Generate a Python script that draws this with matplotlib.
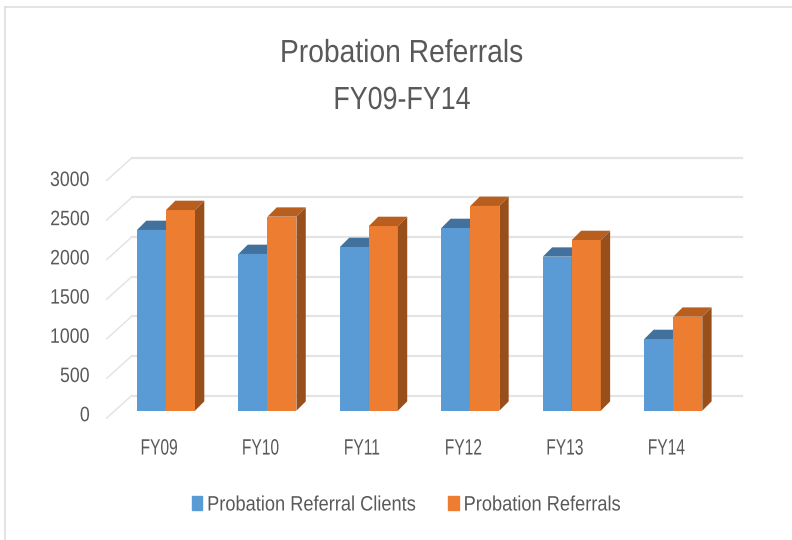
import matplotlib
matplotlib.use('Agg')
import matplotlib.pyplot as plt
from matplotlib.lines import Line2D
from matplotlib.patches import Patch, Polygon
from matplotlib.patheffects import AbstractPathEffect
from matplotlib.transforms import Affine2D

categorias = ['FY09', 'FY10', 'FY11', 'FY12', 'FY13', 'FY14']
clientes = [2282, 1979, 2067, 2307, 1945, 905]
referrals = [2534, 2450, 2332, 2585, 2155, 1187]
ticks_y = [0, 500, 1000, 1500, 2000, 2500, 3000]

plt.rcParams['font.family'] = ['Liberation Sans', 'DejaVu Sans']
cor_texto = '#595959'


# o original usa uma fonte condensada: aperta o texto na horizontal
class Estreita(AbstractPathEffect):
    def __init__(self, fator, ancora=0.5):
        super().__init__()
        self.fator = fator
        self.ancora = ancora

    def draw_path(self, renderer, gc, tpath, affine, rgbFace=None):
        w = tpath.vertices[:, 0].max()
        novo = Affine2D().scale(self.fator, 1).translate((1 - self.fator) * w * self.ancora, 0) + affine
        renderer.draw_path(gc, tpath, novo, rgbFace)


fig = plt.figure(figsize=(7.92, 5.4), dpi=100)
ax = fig.add_axes([106.7 / 792, (540 - 418) / 540, (742 - 106.7) / 792, (418 - 150) / 540])

# escala: um grupo = 101.46 px, 500 unidades = 39.6 px
px_x = 101.46
px_y = 0.0792
ax.set_xlim((106.7 - 166) / px_x, (742 - 166) / px_x)
ax.set_ylim(-7.3 / px_y, (410.7 - 150) / px_y)

largura = 29 / px_x
prof_x = 9.3 / px_x
prof_y = 9.3 / px_y

# paredes e grade
x_frente = (106.7 - 166) / px_x
x_fundo = (131.7 - 166) / px_x
x_fim = (742 - 166) / px_x
y_fundo = 15.2 / px_y
y_frente = -7.3 / px_y
for v in ticks_y:
    ax.plot([x_frente, x_fundo], [v + y_frente, v + y_fundo], color='#e4e4e4', lw=1.1, zorder=1, clip_on=False)
    ax.plot([x_fundo, x_fim], [v + y_fundo, v + y_fundo], color='#e4e4e4', lw=1.6, zorder=1, clip_on=False)


def barra_3d(x, valor, cor, cor_topo, cor_lado, z):
    ax.bar(x, valor, width=largura, align='edge', color=cor, zorder=z)
    topo = [(x, valor), (x + prof_x, valor + prof_y), (x + largura + prof_x, valor + prof_y), (x + largura, valor)]
    lado = [(x + largura, 0), (x + largura + prof_x, prof_y), (x + largura + prof_x, valor + prof_y), (x + largura, valor)]
    ax.add_patch(Polygon(topo, closed=True, facecolor=cor_topo, edgecolor='none', zorder=z))
    ax.add_patch(Polygon(lado, closed=True, facecolor=cor_lado, edgecolor='none', zorder=z))


for i in range(len(categorias)):
    barra_3d(i - largura, clientes[i], '#5b9bd5', '#41719c', '#335d85', 2 + i * 2)
    barra_3d(i, referrals[i], '#ed7d31', '#b85e1e', '#994f1a', 3 + i * 2)

for lado in ax.spines.values():
    lado.set_visible(False)
ax.patch.set_alpha(0)

ax.set_xticks([i - 6.7 / px_x for i in range(len(categorias))])
ax.set_xticklabels(categorias)
ax.set_yticks([v * 0.99 - 3 / px_y for v in ticks_y])
ax.set_yticklabels(ticks_y)
ax.tick_params(axis='x', length=0, pad=14.8, labelsize=16, labelcolor=cor_texto)
ax.tick_params(axis='y', length=0, pad=12, labelsize=15, labelcolor=cor_texto)
for t in ax.get_xticklabels():
    t.set_path_effects([Estreita(0.70, 0.5)])
for t in ax.get_yticklabels():
    t.set_path_effects([Estreita(0.85, 1.0)])

fig.text(402 / 792, 1 - 54 / 540, 'Probation Referrals', ha='center', va='center', fontsize=23, color=cor_texto,
         path_effects=[Estreita(0.884)])
fig.text(402 / 792, 1 - 101 / 540, 'FY09-FY14', ha='center', va='center', fontsize=23, color=cor_texto,
         path_effects=[Estreita(0.84)])

handles = [Patch(color='#5b9bd5', label='Probation Referral Clients'),
           Patch(color='#ed7d31', label='Probation Referrals')]
leg = fig.legend(handles=handles, loc='center left', bbox_to_anchor=(191.7 / 792, 1 - 505 / 540), ncol=2,
                 frameon=False, fontsize=15, labelcolor=cor_texto, handlelength=0.5, handleheight=0.62,
                 handletextpad=0.24, columnspacing=0.1, borderpad=0, borderaxespad=0)
for t in leg.get_texts():
    t.set_path_effects([Estreita(0.875, 0.0)])

# moldura do gráfico
fig.add_artist(Line2D([5 / 792, 5 / 792], [0, 1 - 7 / 540], color='#dcdcdc', lw=1.1))
fig.add_artist(Line2D([5 / 792, 1], [1 - 7 / 540, 1 - 7 / 540], color='#dcdcdc', lw=1.1))

plt.savefig('out.png', dpi=100)
